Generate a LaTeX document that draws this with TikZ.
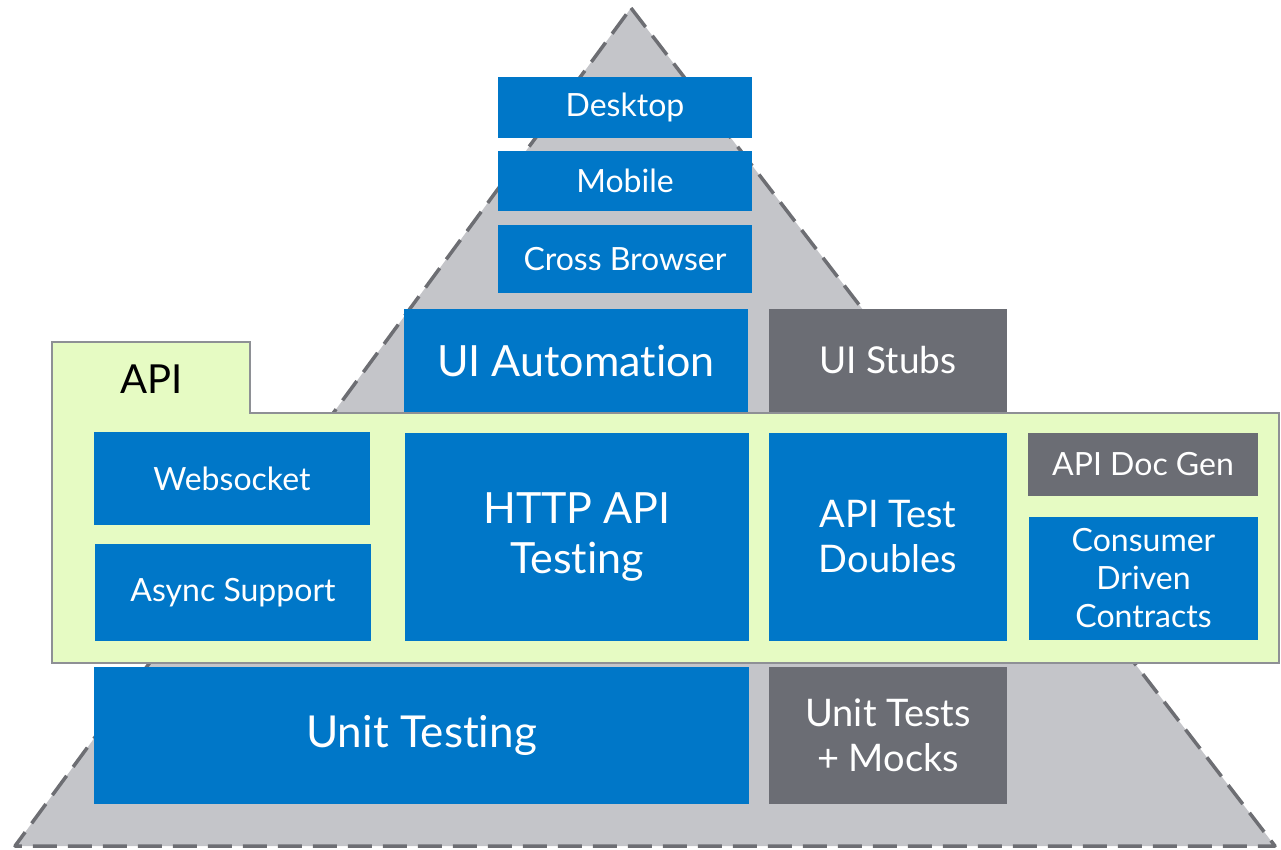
\documentclass[tikz,border=0pt]{standalone}
\usepackage{fontspec}
\setmainfont{Lato}[Ligatures={NoCommon}]
\definecolor{boxblue}{HTML}{0077C8}
\definecolor{boxgray}{HTML}{6B6D74}
\definecolor{pyrfill}{HTML}{C4C5C9}
\definecolor{pyrline}{HTML}{6D6E73}
\definecolor{apifill}{HTML}{E6FBC3}
\definecolor{apiline}{HTML}{8E9095}
\begin{document}
\begin{tikzpicture}[x=1pt,y=-1pt,
  bx/.style={fill=boxblue,text=white,inner sep=0pt,align=center},
  gx/.style={fill=boxgray,text=white,inner sep=0pt,align=center}]
\useasboundingbox (0,0) rectangle (1281,850);
% pyramid
\draw[fill=pyrfill,draw=pyrline,line width=3.5pt,dash pattern=on 24pt off 11pt,line join=round]
  (631,8) -- (1275,846) -- (15,846) -- cycle;
% API panel
\draw[fill=apifill,draw=apiline,line width=2pt]
  (52,342) -- (250,342) -- (250,413) -- (1279,413) -- (1279,663) -- (52,663) -- cycle;
\node (api) at (152,379) {\fontsize{40}{42}\selectfont API};
% boxes
\newcommand{\bxat}[7]{\node[#1,minimum width=#4-#2,minimum height=#5-#3,font=\fontsize{#6}{#6}\selectfont] (#7) at ({(#2+#4)/2},{(#3+#5)/2})}
\bxat{bx}{498}{77}{752}{138}{32}{desk} {Desktop};
\bxat{bx}{498}{151}{752}{211}{32}{mob} {Mobile};
\bxat{bx}{498}{225}{752}{293}{32}{cross} {Cross Browser};
\bxat{bx}{404}{309}{748}{412}{43}{uia} {UI Automation};
\bxat{gx}{769}{309}{1007}{412}{37}{uis} {UI Stubs};
\bxat{bx}{94}{432}{370}{525}{32}{ws} {Websocket};
\bxat{bx}{95}{544}{371}{641}{32}{async} {Async Support};
\node[bx,minimum width=344,minimum height=208,font=\fontsize{43}{50}\selectfont] (http) at (577,537) {HTTP API\\Testing};
\node[bx,minimum width=238,minimum height=208,font=\fontsize{38}{45}\selectfont] (dbl) at (888,537) {API Test\\Doubles};
\node[gx,minimum width=230,minimum height=63,font=\fontsize{32}{32}\selectfont] (doc) at (1143,464.5) {API Doc Gen};
\node[bx,minimum width=229,minimum height=123,font=\fontsize{32}{38}\selectfont] (cdc) at (1143.5,578.5) {Consumer\\Driven\\Contracts};
\bxat{bx}{94}{667}{749}{804}{44}{unit} {Unit Testing};
\node[gx,minimum width=238,minimum height=137,font=\fontsize{38}{45}\selectfont] (mocks) at (888,735.5) {Unit Tests\\+ Mocks};
\end{tikzpicture}
\end{document}
